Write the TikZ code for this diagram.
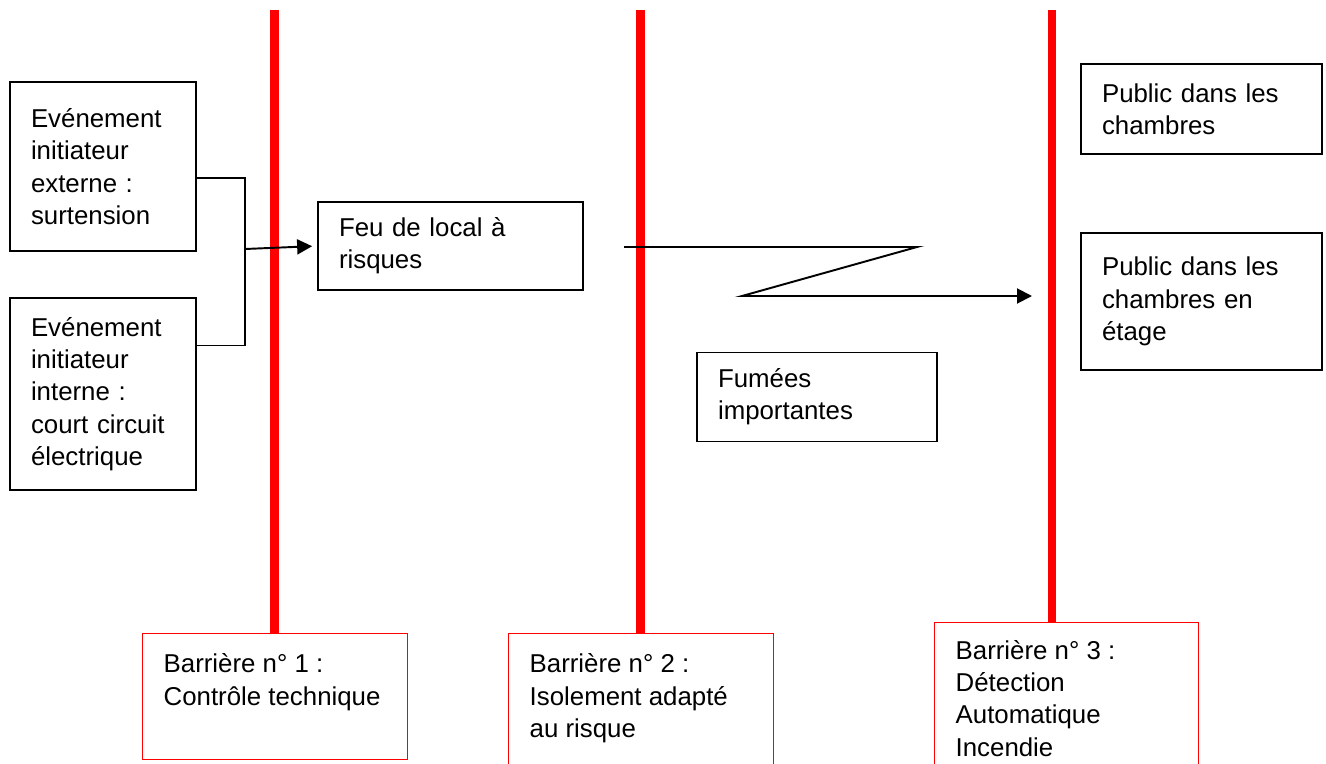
\documentclass[tikz,border=0pt]{standalone}
\usepackage{fontspec}
\setmainfont{Liberation Sans}
\usetikzlibrary{arrows.meta}
\tikzset{
  evtbox/.style={draw, line width=1pt, align=left, inner xsep=0.42cm, inner ysep=0pt,
    font=\fontsize{14.7}{18.4}\selectfont},
  barbox/.style={draw=red, line width=0.8pt, anchor=north west, inner xsep=0.42cm, inner ysep=0.4cm,
    font=\fontsize{14.7}{18.4}\selectfont},
  barline/.style={red, line width=4.8pt},
  link/.style={line width=1.1pt},
  tip/.style={-{Triangle[length=0.3cm,width=0.3cm]}}
}
\begin{document}
\begin{tikzpicture}[x=0.02cm, y=-0.02cm]
        \useasboundingbox (0,0) rectangle (1326,764);
        \clip (0,0) rectangle (1326,764);
        % events
        \node[evtbox, text width=2.88cm, minimum height=3.38cm] (ext) at (103,166.5)
          {Evénement\\ initiateur\\ externe :\\ surtension};
        \node[evtbox, text width=2.88cm, minimum height=3.84cm] (int) at (103,394)
          {Evénement\\ initiateur\\ interne :\\ court circuit\\ électrique};
        \node[evtbox, text width=4.46cm, minimum height=1.76cm] (feu) at (450.5,246)
          {Feu de local à\\ risques};
        \node[evtbox, text width=3.96cm, minimum height=1.78cm] (fumees) at (817,397)
          {Fumées\\ importantes};
        \node[evtbox, text width=3.98cm, minimum height=1.8cm] (pub1) at (1201.5,109)
          {Public dans les\\ chambres};
        \node[evtbox, text width=3.98cm, minimum height=2.74cm] (pub2) at (1201.5,301.5)
          {Public dans les\\ chambres en\\ étage};
        % barriers
        \node[barbox] (bar1) at (142,633)
          {\parbox[t][1.72cm][t]{4.46cm}{Barrière n° 1 :\\ Contrôle technique}};
        \node[barbox] (bar2) at (508,633)
          {\parbox[t][2.6cm][t]{4.46cm}{Barrière n° 2 :\\ Isolement adapté\\ au risque}};
        \node[barbox, inner ysep=0.35cm] (bar3) at (934,622)
          {\parbox[t][2.8cm][t]{4.44cm}{Barrière n° 3 :\\ Détection\\ Automatique\\ Incendie}};
        \coordinate (top1) at (274.5,10);
        \coordinate (top2) at (640.5,10);
        \coordinate (top3) at (1052,10);
        \draw[barline] (top1) -- (top1 |- bar1.north);
        \draw[barline] (top2) -- (top2 |- bar2.north);
        \draw[barline] (top3) -- (top3 |- bar3.north);
        % links
        \coordinate (fork) at (245,249);
        \draw[link] ([yshift=-0.23cm]ext.east) -| (fork) |- ([yshift=0.97cm]int.east);
        \draw[link, tip, shorten >=0.1cm] (fork) -- (feu.west);
        \coordinate (zstart) at (624,247);
        \coordinate (zend) at (1032,296);
        \draw[link, tip] (zstart) -- (917,247) -- (742,296) -- (zend);
\end{tikzpicture}
\end{document}
